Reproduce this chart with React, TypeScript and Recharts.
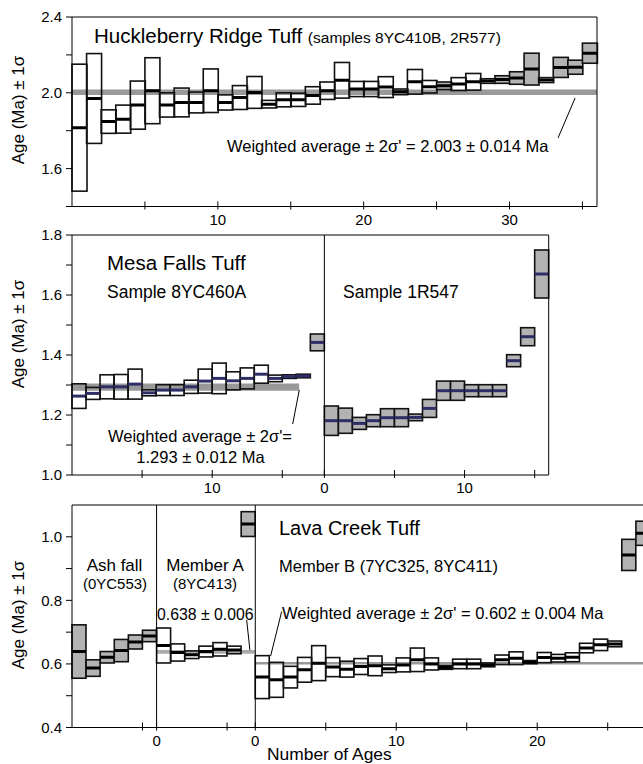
import React from 'react';
import { ComposedChart, Bar, XAxis, YAxis, ReferenceLine, ReferenceArea } from 'recharts';

const FONT = '"Liberation Sans", Arial, Helvetica, sans-serif';
const GRAY = '#b3b3b3';
const BAND = '#999999';
const NAVY = '#2e2e66';

// Huckleberry Ridge Tuff (samples 8YC410B, 2R577)
const hrtAge = [1.816, 1.97, 1.848, 1.861, 1.935, 2.011, 1.936, 1.949, 1.949, 2.011, 1.949, 1.975, 2.002, 1.94, 1.963, 1.963, 1.986, 2.011, 2.066, 2.02, 2.02, 2.03, 2.005, 2.058, 2.032, 2.037, 2.046, 2.058, 2.062, 2.07, 2.078, 2.125, 2.067, 2.134, 2.135, 2.209];
const hrtErr = [0.335, 0.237, 0.062, 0.074, 0.127, 0.174, 0.064, 0.076, 0.055, 0.115, 0.04, 0.063, 0.084, 0.02, 0.037, 0.035, 0.046, 0.046, 0.094, 0.04, 0.04, 0.055, 0.015, 0.065, 0.033, 0.02, 0.034, 0.044, 0.012, 0.02, 0.033, 0.084, 0.013, 0.053, 0.037, 0.053];
const hrtRejected = [26, 30, 31, 32, 34, 35, 36];
const hrtMean = 2.003;
const hrtMeanErr = 0.014;

// Mesa Falls Tuff, sample 8YC460A
const mfaAge = [1.263, 1.272, 1.294, 1.294, 1.303, 1.274, 1.283, 1.283, 1.294, 1.313, 1.322, 1.314, 1.322, 1.336, 1.322, 1.328, 1.33, 1.442];
const mfaErr = [0.041, 0.02, 0.04, 0.041, 0.05, 0.01, 0.018, 0.018, 0.022, 0.04, 0.051, 0.03, 0.035, 0.03, 0.011, 0.006, 0.006, 0.028];
const mfaRejected = [18];
const mfaMean = 1.293;
const mfaMeanErr = 0.012;

// Mesa Falls Tuff, sample 1R547
const mfbAge = [1.181, 1.181, 1.172, 1.181, 1.191, 1.191, 1.192, 1.222, 1.281, 1.281, 1.281, 1.281, 1.281, 1.381, 1.461, 1.67];
const mfbErr = [0.049, 0.042, 0.02, 0.02, 0.03, 0.03, 0.011, 0.03, 0.032, 0.032, 0.02, 0.02, 0.02, 0.02, 0.03, 0.08];
const mfbRejected = [1, 2, 3, 4, 5, 6, 7, 8, 9, 10, 11, 12, 13, 14, 15, 16];

// Lava Creek Tuff: ash fall (0YC553)
const ashAge = [0.639, 0.587, 0.621, 0.642, 0.669, 0.688];
const ashErr = [0.084, 0.026, 0.018, 0.035, 0.022, 0.018];
const ashRejected = [1, 2, 3, 4, 5, 6];

// Lava Creek Tuff: member A (8YC413)
const memAAge = [0.658, 0.636, 0.629, 0.639, 0.646, 0.644, 1.04];
const memAErr = [0.055, 0.027, 0.012, 0.017, 0.021, 0.012, 0.039];
const memARejected = [7];
const memAMean = 0.638;
const memAMeanErr = 0.006;

// Lava Creek Tuff: member B (7YC325, 8YC411)
const memBAge = [0.5585, 0.55, 0.5585, 0.5815, 0.6025, 0.59, 0.5836, 0.5918, 0.594, 0.585, 0.597, 0.613, 0.6, 0.589, 0.6, 0.6, 0.597, 0.613, 0.618, 0.6056, 0.62, 0.618, 0.621, 0.65, 0.66, 0.663, 0.943, 1.011];
const memBErr = [0.0675, 0.055, 0.034, 0.039, 0.055, 0.03, 0.025, 0.025, 0.031, 0.012, 0.022, 0.037, 0.019, 0.006, 0.015, 0.015, 0.006, 0.015, 0.02, 0.005, 0.016, 0.012, 0.014, 0.015, 0.018, 0.009, 0.049, 0.038];
const memBRejected = [27, 28];
const memBMean = 0.602;
const memBMeanErr = 0.004;

// axis ticks and labels
const topXTicks = [5, 10, 15, 20, 25, 30, 35];
const topXLabels = ['', '10', '', '20', '', '30', ''];
const topYTicks = [1.4, 1.6, 1.8, 2.0, 2.2, 2.4];
const topYLabels = ['', '1.6', '', '2.0', '', '2.4'];

const midXTicks = [5, 10, 15, 18, 23, 28, 33];
const midXLabels = ['', '10', '', '0', '', '10', ''];
const midYTicks = [1.0, 1.1, 1.2, 1.3, 1.4, 1.5, 1.6, 1.7, 1.8];
const midYLabels = ['1.0', '', '1.2', '', '1.4', '', '1.6', '', '1.8'];

const botXTicks = [5, 6, 11, 13, 18, 23, 28, 33, 38];
const botXLabels = ['', '0', '', '0', '', '10', '', '20', ''];
const botYTicks = [0.4, 0.5, 0.6, 0.7, 0.8, 0.9, 1.0];
const botYLabels = ['0.4', '', '0.6', '', '0.8', '', '1.0'];

type Row = { slot: number; range: [number, number]; rejected: boolean; line: string };

const buildRows = (age: number[], err: number[], rejected: number[], start: number, line = '#000'): Row[] =>
  age.map((a, i) => ({
    slot: start + i,
    range: [a - err[i], a + err[i]],
    rejected: rejected.includes(i + 1),
    line,
  }));

const topRows = buildRows(hrtAge, hrtErr, hrtRejected, 0);
const midRows = [
  ...buildRows(mfaAge, mfaErr, mfaRejected, 0, NAVY),
  ...buildRows(mfbAge, mfbErr, mfbRejected, mfaAge.length, NAVY),
];
const botRows = [
  ...buildRows(ashAge, ashErr, ashRejected, 0),
  ...buildRows(memAAge, memAErr, memARejected, ashAge.length),
  ...buildRows(memBAge, memBErr, memBRejected, ashAge.length + memAAge.length),
];

const AgeBox = (props: any) => {
  const { x, y, width, height, payload } = props;
  const top = Math.min(y, y + height);
  const h = Math.abs(height);
  return (
    <g>
      <rect x={x} y={top} width={width} height={h} fill={payload.rejected ? GRAY : 'none'} stroke="#111" strokeWidth={1.6} />
      <line x1={x} x2={x + width} y1={top + h / 2} y2={top + h / 2} stroke={payload.line} strokeWidth={3} />
    </g>
  );
};

const XTick = (props: any) => {
  const { x, y, payload, ticks, labels } = props;
  const label = labels[ticks.indexOf(payload.value)] ?? '';
  return (
    <g>
      <line x1={x} x2={x} y1={y - 5} y2={y + 3} stroke="#000" strokeWidth={1} />
      <text x={x} y={y + 18} textAnchor="middle" fontSize={15} fill="#000" fontFamily={FONT}>
        {label}
      </text>
    </g>
  );
};

interface PanelProps {
  rows: Row[];
  width: number;
  height: number;
  margin: { top: number; right: number; bottom: number; left: number };
  slots: number;
  yDomain: [number, number];
  yTicks: number[];
  yLabels: string[];
  xTicks: number[];
  xLabels: string[];
  children?: React.ReactNode;
}

const Panel = ({ rows, width, height, margin, slots, yDomain, yTicks, yLabels, xTicks, xLabels, children }: PanelProps) => (
  <ComposedChart width={width} height={height} data={rows} margin={margin} barCategoryGap={0} barGap={0}>
    <XAxis xAxisId="cat" dataKey="slot" type="category" orientation="top" height={0} hide />
    <XAxis
      xAxisId="num"
      dataKey="slot"
      type="number"
      domain={[0, slots]}
      ticks={xTicks}
      interval={0}
      allowDataOverflow
      height={20}
      tickLine={false}
      tickSize={0}
      tickMargin={0}
      axisLine={{ stroke: '#000' }}
      tick={(p: any) => <XTick {...p} ticks={xTicks} labels={xLabels} />}
    />
    <YAxis
      type="number"
      domain={yDomain}
      ticks={yTicks}
      interval={0}
      width={40}
      allowDataOverflow
      tickSize={6}
      tickMargin={4}
      axisLine={{ stroke: '#000' }}
      tickLine={{ stroke: '#000' }}
      tick={{ fontSize: 15, fill: '#000', fontFamily: FONT }}
      tickFormatter={(v: number) => yLabels[yTicks.indexOf(v)] ?? ''}
    />
    {children}
    <Bar xAxisId="cat" dataKey="range" shape={AgeBox} isAnimationActive={false} />
  </ComposedChart>
);

const txt = { fontFamily: FONT, fill: '#000' };

const App = () => (
  <div style={{ position: 'absolute', left: 0, top: 0, width: 643, height: 764, overflow: 'hidden', background: '#fff' }}>
    <div style={{ position: 'absolute', left: 0, top: 0 }}>
      <Panel
        rows={topRows}
        width={643}
        height={230}
        margin={{ top: 17, right: 46, bottom: 3.5, left: 32 }}
        slots={36}
        yDomain={[1.4, 2.4]}
        yTicks={topYTicks}
        yLabels={topYLabels}
        xTicks={topXTicks}
        xLabels={topXLabels}
      >
        <ReferenceArea xAxisId="num" x1={0} x2={36} y1={hrtMean - hrtMeanErr} y2={hrtMean + hrtMeanErr} fill={BAND} fillOpacity={1} stroke="none" ifOverflow="visible" />
        <ReferenceLine xAxisId="num" y={2.4} stroke="#000" ifOverflow="visible" />
        <ReferenceLine xAxisId="num" x={36} stroke="#000" ifOverflow="visible" />
        <ReferenceLine xAxisId="num" segment={[{ x: 34.5, y: 1.973 }, { x: 33.33, y: 1.762 }]} stroke="#000" ifOverflow="visible" />
      </Panel>
    </div>
    <div style={{ position: 'absolute', left: 0, top: 220 }}>
      <Panel
        rows={midRows}
        width={643}
        height={280}
        margin={{ top: 15, right: 94.3, bottom: 5, left: 32 }}
        slots={34}
        yDomain={[1.0, 1.8]}
        yTicks={midYTicks}
        yLabels={midYLabels}
        xTicks={midXTicks}
        xLabels={midXLabels}
      >
        <ReferenceArea xAxisId="num" x1={0} x2={16.2} y1={mfaMean - mfaMeanErr} y2={mfaMean + mfaMeanErr} fill={BAND} fillOpacity={1} stroke="none" ifOverflow="visible" />
        <ReferenceLine xAxisId="num" x={18} stroke="#000" ifOverflow="visible" />
        <ReferenceLine xAxisId="num" y={1.8} stroke="#000" ifOverflow="visible" />
        <ReferenceLine xAxisId="num" x={34} stroke="#000" ifOverflow="visible" />
        <ReferenceLine xAxisId="num" segment={[{ x: 16.21, y: 1.283 }, { x: 15.74, y: 1.17 }]} stroke="#000" ifOverflow="visible" />
      </Panel>
    </div>
    <div style={{ position: 'absolute', left: 0, top: 490 }}>
      <Panel
        rows={botRows}
        width={660}
        height={274}
        margin={{ top: 15, right: 10, bottom: 16.5, left: 32 }}
        slots={41}
        yDomain={[0.4, 1.1]}
        yTicks={botYTicks}
        yLabels={botYLabels}
        xTicks={botXTicks}
        xLabels={botXLabels}
      >
        <ReferenceArea xAxisId="num" x1={6} x2={13} y1={memAMean - memAMeanErr} y2={memAMean + memAMeanErr} fill="#aaaaaa" fillOpacity={1} stroke="none" ifOverflow="visible" />
        <ReferenceArea xAxisId="num" x1={13} x2={41} y1={memBMean - memBMeanErr} y2={memBMean + memBMeanErr} fill={BAND} fillOpacity={1} stroke="none" ifOverflow="visible" />
        <ReferenceLine xAxisId="num" x={6} stroke="#000" ifOverflow="visible" />
        <ReferenceLine xAxisId="num" x={13} stroke="#000" ifOverflow="visible" />
        <ReferenceLine xAxisId="num" y={1.1} stroke="#000" ifOverflow="visible" />
        <ReferenceLine xAxisId="num" segment={[{ x: 12.39, y: 0.7385 }, { x: 12.62, y: 0.6435 }]} stroke="#000" ifOverflow="visible" />
        <ReferenceLine xAxisId="num" segment={[{ x: 14.87, y: 0.7645 }, { x: 14.09, y: 0.625 }]} stroke="#000" ifOverflow="visible" />
      </Panel>
    </div>
    <svg width={643} height={764} style={{ position: 'absolute', left: 0, top: 0, pointerEvents: 'none' }}>
      <g {...txt}>
        {/* y axis titles */}
        <text transform="translate(24,110) rotate(-90)" textAnchor="middle" fontSize={17}>Age (Ma) ± 1σ</text>
        <text transform="translate(24,334) rotate(-90)" textAnchor="middle" fontSize={17}>Age (Ma) ± 1σ</text>
        <text transform="translate(24,615) rotate(-90)" textAnchor="middle" fontSize={17}>Age (Ma) ± 1σ</text>

        {/* top panel */}
        <text x={94} y={43} fontSize={20.5}>
          Huckleberry Ridge Tuff <tspan fontSize={15.5}>(samples 8YC410B, 2R577)</tspan>
        </text>
        <text x={227} y={152} fontSize={16.5}>Weighted average ± 2σ' = 2.003 ± 0.014 Ma</text>

        {/* middle panel */}
        <text x={107} y={270} fontSize={20.5}>Mesa Falls Tuff</text>
        <text x={107} y={298} fontSize={17.5}>Sample 8YC460A</text>
        <text x={343} y={298} fontSize={17.5}>Sample 1R547</text>
        <text x={200} y={442} textAnchor="middle" fontSize={16.5}>Weighted average ± 2σ'=</text>
        <text x={200.5} y={463} textAnchor="middle" fontSize={16.5}>1.293 ± 0.012 Ma</text>

        {/* bottom panel */}
        <text x={279} y={535} fontSize={20}>Lava Creek Tuff</text>
        <text x={114.5} y={571} textAnchor="middle" fontSize={17}>Ash fall</text>
        <text x={115} y={589} textAnchor="middle" fontSize={15}>(0YC553)</text>
        <text x={205} y={571} textAnchor="middle" fontSize={17}>Member A</text>
        <text x={205} y={589} textAnchor="middle" fontSize={15}>(8YC413)</text>
        <text x={279} y={572} fontSize={16.5}>
          Member B <tspan fontSize={16.5}>(7YC325, 8YC411)</tspan>
        </text>
        <text x={157} y={620} fontSize={15.8}>0.638 ± 0.006</text>
        <text x={282} y={619} fontSize={16.5}>Weighted average ± 2σ' = 0.602 ± 0.004 Ma</text>
        <text x={267} y={760} fontSize={17.4}>Number of Ages</text>
      </g>
    </svg>
  </div>
);

export default App;
